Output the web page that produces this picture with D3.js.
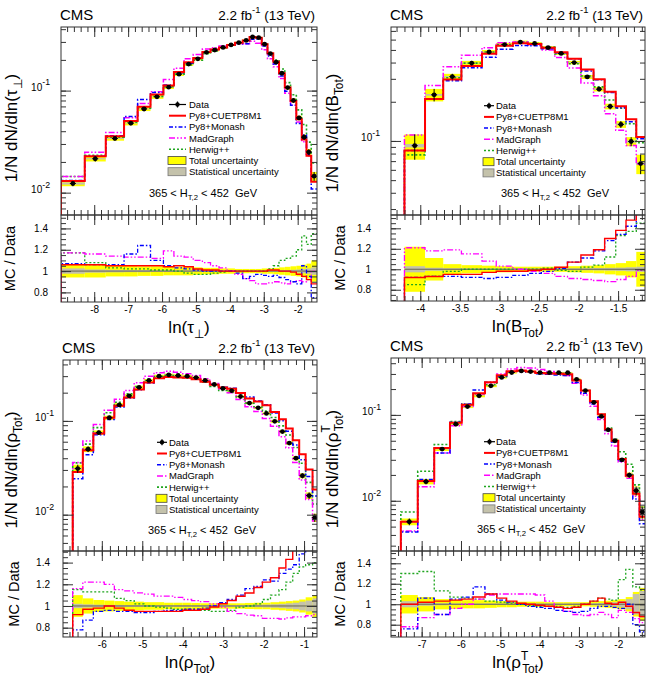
<!DOCTYPE html>
<html lang="en">
<head>
<meta charset="utf-8">
<title>Event shapes 365 < HT,2 < 452 GeV</title>
<script src="https://d3js.org/d3.v7.min.js"></script>
<style>
body { margin: 0; background: #fff; }
svg text { font-family: "Liberation Sans", Arial, Helvetica, sans-serif; fill: #000; }
</style>
</head>
<body>
<script>
// ---- ln(tau_perp) ----
var tauEdges = [-8.98, -8.28, -7.66, -7.12, -6.72, -6.34, -5.96, -5.65, -5.35, -5.08, -4.81, -4.57, -4.32, -4.08, -3.85, -3.62, -3.42, -3.24, -3.06, -2.89, -2.72, -2.55, -2.38, -2.21, -2.04, -1.88, -1.74, -1.60, -1.43];
var tauData = [0.0123, 0.0215, 0.034, 0.048, 0.066, 0.087, 0.108, 0.145, 0.182, 0.205, 0.237, 0.25, 0.265, 0.28, 0.295, 0.31, 0.335, 0.33, 0.285, 0.23, 0.19, 0.148, 0.107, 0.08, 0.054, 0.035, 0.025, 0.0145];
var tauTotal = [0.06, 0.06, 0.05, 0.05, 0.045, 0.045, 0.04, 0.04, 0.04, 0.035, 0.03, 0.03, 0.025, 0.025, 0.02, 0.02, 0.02, 0.02, 0.025, 0.025, 0.03, 0.035, 0.04, 0.045, 0.05, 0.06, 0.07, 0.10];
var tauStat = [0.025, 0.015, 0.012, 0.01, 0.01, 0.008, 0.008, 0.007, 0.007, 0.006, 0.006, 0.006, 0.006, 0.006, 0.006, 0.006, 0.006, 0.006, 0.006, 0.007, 0.008, 0.009, 0.01, 0.012, 0.015, 0.02, 0.025, 0.035];
var tauCuet = [1.06, 1.06, 1.05, 1.05, 1.05, 1.05, 1.04, 1.05, 1.04, 1.02, 1.01, 1.01, 1.0, 1.0, 1.0, 1.0, 1.0, 1.0, 1.0, 1.01, 1.01, 1.0, 1.0, 0.99, 0.97, 0.95, 0.92, 0.88];
var tauMonash = [1.07, 1.06, 1.06, 1.16, 1.24, 1.10, 1.05, 1.03, 1.02, 1.01, 1.0, 1.0, 1.0, 1.0, 0.98, 0.93, 0.95, 0.97, 0.96, 0.95, 0.96, 0.94, 0.92, 0.90, 0.88, 1.05, 0.95, 0.75];
var tauMadgraph = [1.17, 1.16, 1.14, 1.13, 1.13, 1.12, 1.19, 1.14, 1.13, 1.10, 1.08, 1.05, 1.03, 1.0, 0.97, 0.93, 0.91, 0.88, 0.88, 0.89, 0.90, 0.89, 0.88, 0.90, 0.91, 0.90, 0.92, 1.0];
var tauHerwig = [1.17, 1.08, 1.03, 1.02, 1.02, 1.01, 1.01, 1.0, 0.98, 0.97, 0.97, 0.98, 0.99, 1.0, 1.0, 1.0, 1.0, 1.0, 1.0, 1.02, 1.05, 1.10, 1.12, 1.14, 1.20, 1.33, 1.25, 1.35];
var tauTicks = [-8, -7, -6, -5, -4, -3, -2];

// ---- ln(B_Tot) ----
var bEdges = [-4.20, -3.94, -3.71, -3.48, -3.22, -3.04, -2.83, -2.64, -2.47, -2.30, -2.14, -1.97, -1.81, -1.67, -1.53, -1.40, -1.27, -1.16];
var bData = [0.092, 0.226, 0.312, 0.396, 0.482, 0.55, 0.575, 0.56, 0.52, 0.47, 0.40, 0.31, 0.25, 0.184, 0.134, 0.099, 0.067];
var bTotal = [0.22, 0.11, 0.05, 0.04, 0.035, 0.03, 0.025, 0.025, 0.025, 0.025, 0.03, 0.035, 0.04, 0.05, 0.06, 0.08, 0.17];
var bStat = [0.03, 0.015, 0.01, 0.008, 0.007, 0.007, 0.007, 0.007, 0.008, 0.008, 0.009, 0.01, 0.012, 0.014, 0.016, 0.02, 0.025];
var bCuet = [0.92, 0.93, 0.95, 0.95, 0.97, 0.98, 0.98, 0.99, 1.0, 1.02, 1.07, 1.14, 1.19, 1.30, 1.38, 1.48, 1.60];
var bMonash = [0.92, 0.93, 0.93, 0.92, 0.91, 0.92, 0.94, 0.96, 0.98, 1.01, 1.07, 1.11, 1.18, 1.28, 1.34, 1.42, 1.55];
var bMadgraph = [1.21, 1.18, 1.19, 1.15, 1.08, 1.03, 1.0, 0.98, 0.96, 0.93, 0.91, 0.90, 0.89, 0.88, 0.90, 0.93, 0.99];
var bHerwig = [0.85, 0.93, 0.98, 1.0, 1.0, 1.0, 1.0, 1.0, 1.01, 0.99, 0.98, 1.02, 1.04, 1.12, 1.33, 1.37, 1.45];
var bTicks = [-4, -3.5, -3, -2.5, -2, -1.5];

// ---- ln(rho_Tot) ----
var rhoEdges = [-6.72, -6.47, -6.21, -5.94, -5.69, -5.45, -5.20, -4.96, -4.71, -4.46, -4.23, -4.00, -3.78, -3.56, -3.33, -3.11, -2.90, -2.68, -2.46, -2.24, -2.03, -1.83, -1.62, -1.45, -1.28, -1.12, -0.96, -0.79, -0.68];
var rhoData = [0.031, 0.05, 0.075, 0.108, 0.148, 0.185, 0.228, 0.27, 0.30, 0.31, 0.305, 0.30, 0.29, 0.27, 0.245, 0.222, 0.21, 0.182, 0.155, 0.138, 0.12, 0.099, 0.077, 0.058, 0.04, 0.026, 0.016, 0.0093];
var rhoTotal = [0.10, 0.07, 0.055, 0.05, 0.045, 0.04, 0.04, 0.035, 0.035, 0.03, 0.03, 0.03, 0.028, 0.025, 0.025, 0.025, 0.025, 0.025, 0.028, 0.03, 0.03, 0.035, 0.04, 0.045, 0.05, 0.06, 0.08, 0.10];
var rhoStat = [0.02, 0.015, 0.012, 0.01, 0.01, 0.008, 0.008, 0.008, 0.007, 0.007, 0.007, 0.007, 0.007, 0.007, 0.007, 0.008, 0.008, 0.009, 0.01, 0.011, 0.013, 0.016, 0.02, 0.025, 0.03, 0.04, 0.05, 0.07];
var rhoCuet = [0.92, 0.97, 0.98, 1.0, 0.98, 0.96, 0.95, 0.95, 0.95, 0.95, 0.95, 0.96, 0.96, 0.97, 0.99, 1.02, 1.05, 1.09, 1.12, 1.17, 1.22, 1.26, 1.35, 1.43, 1.55, 1.7, 1.9, 2.0];
var rhoMonash = [0.78, 0.87, 0.95, 0.96, 0.95, 0.95, 0.94, 0.94, 0.95, 0.96, 0.96, 0.97, 0.97, 0.98, 1.0, 1.03, 1.06, 1.10, 1.16, 1.18, 1.24, 1.23, 1.30, 1.34, 1.38, 1.48, 1.6, 1.7];
var rhoMadgraph = [1.16, 1.22, 1.22, 1.20, 1.15, 1.14, 1.12, 1.11, 1.09, 1.09, 1.08, 1.06, 1.05, 1.04, 1.02, 0.99, 0.95, 0.93, 0.915, 0.91, 0.885, 0.885, 0.88, 0.89, 0.90, 0.90, 0.91, 0.92];
var rhoHerwig = [1.15, 1.13, 1.13, 1.13, 1.07, 1.05, 1.02, 1.0, 0.99, 0.98, 0.97, 0.97, 0.97, 0.96, 0.95, 0.95, 0.96, 0.99, 1.0, 1.02, 1.06, 1.10, 1.15, 1.22, 1.30, 1.36, 1.38, 1.40];
var rhoTicks = [-6, -5, -4, -3, -2, -1];

// ---- ln(rho^T_Tot) ----
var rhoTEdges = [-7.53, -7.10, -6.68, -6.28, -5.98, -5.69, -5.39, -5.09, -4.84, -4.58, -4.35, -4.11, -3.87, -3.63, -3.40, -3.17, -2.95, -2.72, -2.52, -2.34, -2.17, -2.00, -1.81, -1.63, -1.46, -1.32];
var rhoTData = [0.0057, 0.0167, 0.04, 0.078, 0.125, 0.167, 0.218, 0.273, 0.312, 0.325, 0.32, 0.31, 0.31, 0.31, 0.31, 0.26, 0.192, 0.14, 0.096, 0.067, 0.05, 0.030, 0.0199, 0.0131, 0.0074];
var rhoTTotal = [0.09, 0.07, 0.05, 0.045, 0.04, 0.04, 0.035, 0.03, 0.03, 0.025, 0.025, 0.025, 0.02, 0.02, 0.02, 0.02, 0.02, 0.025, 0.03, 0.035, 0.04, 0.05, 0.07, 0.12, 0.16];
var rhoTStat = [0.03, 0.015, 0.01, 0.008, 0.007, 0.007, 0.007, 0.007, 0.007, 0.007, 0.007, 0.007, 0.007, 0.007, 0.007, 0.008, 0.009, 0.01, 0.012, 0.015, 0.02, 0.03, 0.05, 0.1, 0.13];
var rhoTCuet = [1.0, 1.02, 1.03, 1.04, 1.05, 1.07, 1.10, 1.06, 1.03, 1.01, 1.0, 0.99, 0.98, 0.97, 0.96, 0.97, 1.0, 1.03, 1.06, 1.01, 1.0, 1.02, 0.98, 0.92, 0.88];
var rhoTMonash = [0.76, 1.06, 0.90, 1.05, 1.07, 1.17, 1.10, 1.04, 1.02, 1.0, 0.98, 0.97, 0.96, 0.94, 0.93, 0.92, 0.93, 0.96, 0.98, 0.98, 0.97, 0.96, 1.0, 0.80, 0.73];
var rhoTMadgraph = [0.78, 0.87, 0.90, 0.96, 1.0, 1.05, 1.09, 1.10, 1.10, 1.10, 1.10, 1.09, 1.03, 0.97, 0.93, 0.90, 0.89, 0.90, 0.92, 0.90, 0.87, 0.94, 0.92, 0.86, 0.82];
var rhoTHerwig = [1.30, 1.32, 1.13, 1.07, 1.06, 1.05, 1.03, 1.02, 1.01, 1.0, 0.99, 0.98, 0.98, 0.98, 0.97, 0.98, 1.0, 1.03, 1.06, 1.05, 1.04, 1.24, 1.34, 1.17, 1.14];
var rhoTTicks = [-7, -6, -5, -4, -3, -2];

var ratioTicks = [0.8, 1, 1.2, 1.4];
var logLabelTicks = [0.01, 0.1];
var mcNames = ["Py8+CUETP8M1", "Py8+Monash", "MadGraph", "Herwig++"];
var bandNames = ["Total uncertainty", "Statistical uncertainty"];

var mcStyle = [
    {color: "#ff0000", dash: null, w: 2, rw: 1.4},
    {color: "#0000ff", dash: "4,2,1.5,2", w: 1.5, rw: 1.3},
    {color: "#ff00ff", dash: "6,2,1.5,2,1.5,2", w: 1.5, rw: 1.3},
    {color: "#1fa51f", dash: "2,2", w: 1.6, rw: 1.3}
];
var yellow = "#ffff00", statGray = "#c4c2ab";

var svg = d3.select("body").append("svg")
    .attr("width", 652).attr("height", 685);
svg.append("rect").attr("width", 652).attr("height", 685).attr("fill", "#fff");
var defs = svg.append("defs");

// text with sub/superscripts: parts = [[text, "sub"|"sup"|undefined, dx]]
function rich(t, parts, size) {
    var shift = 0;
    parts.forEach(function (p) {
        var s = p[1] === "sub" ? 0.3 * size : (p[1] === "sup" ? -0.45 * size : 0);
        var ts = t.append("tspan").text(p[0]).attr("dy", s - shift);
        if (p[1]) ts.attr("font-size", 0.7 * size);
        if (p[2]) ts.attr("dx", p[2]);
        shift = s;
    });
}

function stepPoints(edges, vals, x, y, base) {
    var pts = [[x(edges[0]), base]];
    vals.forEach(function (v, i) {
        pts.push([x(edges[i]), y(v)]);
        pts.push([x(edges[i + 1]), y(v)]);
    });
    return pts;
}

function minorRange(d0, d1, step) {
    var out = [];
    for (var k = Math.ceil(d0 / step - 1e-6); k * step <= d1 + 1e-9; k++) out.push(+(k * step).toFixed(4));
    return out;
}

var line = d3.line();

function drawPanel(p) {
    var x = d3.scaleLinear().domain(p.xDomain).range([p.left, p.right]);
    var y = d3.scaleLog().domain(p.yDomain).range([p.mid, p.top]);
    var r = d3.scaleLinear().domain(p.rDomain).range([p.bottom, p.mid]);
    var bins = d3.range(p.data.length);
    var w = p.right - p.left;

    defs.append("clipPath").attr("id", "cu" + p.id).append("rect")
        .attr("x", p.left).attr("y", p.top).attr("width", w).attr("height", p.mid - p.top);
    defs.append("clipPath").attr("id", "cr" + p.id).append("rect")
        .attr("x", p.left).attr("y", p.mid).attr("width", w).attr("height", p.bottom - p.mid);

    // ---------- upper panel ----------
    var up = svg.append("g").attr("clip-path", "url(#cu" + p.id + ")");
    [[p.total, yellow], [p.stat, statGray]].forEach(function (b) {
        up.selectAll(null).data(bins).enter().append("rect")
            .attr("x", function (i) { return x(p.edges[i]); })
            .attr("width", function (i) { return x(p.edges[i + 1]) - x(p.edges[i]); })
            .attr("y", function (i) { return y(p.data[i] * (1 + b[0][i])); })
            .attr("height", function (i) { return y(p.data[i] * (1 - b[0][i])) - y(p.data[i] * (1 + b[0][i])); })
            .attr("fill", b[1]);
    });
    for (var k = p.mc.length - 1; k >= 0; k--) {
        var ratio = p.mc[k];
        var vals = p.data.map(function (d, i) { return d * ratio[i]; });
        up.append("path")
            .attr("d", line(stepPoints(p.edges, vals, x, y, p.mid + 5)))
            .attr("fill", "none")
            .attr("stroke", mcStyle[k].color)
            .attr("stroke-width", mcStyle[k].w)
            .attr("stroke-dasharray", mcStyle[k].dash);
    }
    var pts = up.selectAll(null).data(bins).enter().append("g");
    pts.append("line")
        .attr("x1", function (i) { return (x(p.edges[i]) + x(p.edges[i + 1])) / 2; })
        .attr("x2", function (i) { return (x(p.edges[i]) + x(p.edges[i + 1])) / 2; })
        .attr("y1", function (i) { return y(p.data[i] * (1 + p.total[i])); })
        .attr("y2", function (i) { return y(p.data[i] * (1 - p.total[i])); })
        .attr("stroke", "#000").attr("stroke-width", 1);
    pts.append("line")
        .attr("x1", function (i) { return (x(p.edges[i]) + x(p.edges[i + 1])) / 2 - 3; })
        .attr("x2", function (i) { return (x(p.edges[i]) + x(p.edges[i + 1])) / 2 + 3; })
        .attr("y1", function (i) { return y(p.data[i]); })
        .attr("y2", function (i) { return y(p.data[i]); })
        .attr("stroke", "#000").attr("stroke-width", 1);
    pts.append("circle")
        .attr("cx", function (i) { return (x(p.edges[i]) + x(p.edges[i + 1])) / 2; })
        .attr("cy", function (i) { return y(p.data[i]); })
        .attr("r", 2.4).attr("fill", "#000");

    // ---------- ratio panel ----------
    var rp = svg.append("g").attr("clip-path", "url(#cr" + p.id + ")");
    [[p.total, yellow], [p.stat, statGray]].forEach(function (b) {
        rp.selectAll(null).data(bins).enter().append("rect")
            .attr("x", function (i) { return x(p.edges[i]); })
            .attr("width", function (i) { return x(p.edges[i + 1]) - x(p.edges[i]); })
            .attr("y", function (i) { return r(1 + b[0][i]); })
            .attr("height", function (i) { return r(1 - b[0][i]) - r(1 + b[0][i]); })
            .attr("fill", b[1]);
    });
    rp.append("line")
        .attr("x1", x(p.edges[0])).attr("x2", x(p.edges[p.edges.length - 1]))
        .attr("y1", r(1)).attr("y2", r(1))
        .attr("stroke", "#66664f").attr("stroke-width", 1);
    for (var m = p.mc.length - 1; m >= 0; m--) {
        rp.append("path")
            .attr("d", line(stepPoints(p.edges, p.mc[m], x, r, p.bottom + 5)))
            .attr("fill", "none")
            .attr("stroke", mcStyle[m].color)
            .attr("stroke-width", mcStyle[m].rw)
            .attr("stroke-dasharray", mcStyle[m].dash);
    }

    // ---------- frames and axes ----------
    var ax = svg.append("g").attr("color", "#333");
    function tickAxis(axis, tr) {
        var g = ax.append("g").attr("transform", tr)
            .attr("font-size", 12.5)
            .attr("font-family", '"Liberation Sans", Arial, sans-serif')
            .call(axis);
        g.select(".domain").remove();
        return g;
    }
    var xMinor = minorRange(p.xDomain[0], p.xDomain[1], p.minor);
    var logMinor = [];
    for (var e = -4; e <= 0; e++) {
        for (var j = 1; j <= 9; j++) {
            var v = j * Math.pow(10, e);
            if (v > p.yDomain[0] && v < p.yDomain[1]) logMinor.push(v);
        }
    }
    var rMinor = minorRange(p.rDomain[0], p.rDomain[1], 0.05);

    // upper panel: x ticks top & bottom
    tickAxis(d3.axisTop(x).tickValues(xMinor).tickSize(-5).tickFormat(""), "translate(0," + p.top + ")");
    tickAxis(d3.axisTop(x).tickValues(p.xTicks).tickSize(-10).tickFormat(""), "translate(0," + p.top + ")");
    tickAxis(d3.axisBottom(x).tickValues(xMinor).tickSize(-5).tickFormat(""), "translate(0," + p.mid + ")");
    tickAxis(d3.axisBottom(x).tickValues(p.xTicks).tickSize(-10).tickFormat(""), "translate(0," + p.mid + ")");
    // ratio panel: x ticks top & bottom
    tickAxis(d3.axisTop(x).tickValues(xMinor).tickSize(-5).tickFormat(""), "translate(0," + p.mid + ")");
    tickAxis(d3.axisTop(x).tickValues(p.xTicks).tickSize(-10).tickFormat(""), "translate(0," + p.mid + ")");
    tickAxis(d3.axisBottom(x).tickValues(xMinor).tickSize(-5).tickFormat(""), "translate(0," + p.bottom + ")");
    tickAxis(d3.axisBottom(x).tickValues(p.xTicks).tickSize(-10).tickPadding(4)
        .tickFormat(function (d) { return String(d); }), "translate(0," + p.bottom + ")");

    // upper y (log)
    tickAxis(d3.axisLeft(y).tickValues(logMinor).tickSize(-5).tickFormat(""), "translate(" + p.left + ",0)");
    tickAxis(d3.axisRight(y).tickValues(logMinor).tickSize(-5).tickFormat(""), "translate(" + p.right + ",0)");
    var lt = logLabelTicks.filter(function (v) { return v > p.yDomain[0] && v < p.yDomain[1]; });
    tickAxis(d3.axisRight(y).tickValues(lt).tickSize(-10).tickFormat(""), "translate(" + p.right + ",0)");
    var yl = tickAxis(d3.axisLeft(y).tickValues(lt).tickSize(-10).tickPadding(p.yLabOff), "translate(" + p.left + ",0)");
    yl.selectAll(".tick text").each(function (d) {
        var t = d3.select(this).text(null);
        rich(t, [["10"], [String(Math.round(Math.log10(d))), "sup"]], 12.5);
    });

    // ratio y
    tickAxis(d3.axisLeft(r).tickValues(rMinor).tickSize(-5).tickFormat(""), "translate(" + p.left + ",0)");
    tickAxis(d3.axisRight(r).tickValues(rMinor).tickSize(-5).tickFormat(""), "translate(" + p.right + ",0)");
    tickAxis(d3.axisRight(r).tickValues(ratioTicks).tickSize(-10).tickFormat(""), "translate(" + p.right + ",0)");
    tickAxis(d3.axisLeft(r).tickValues(ratioTicks).tickSize(-10).tickPadding(p.rLabOff)
        .tickFormat(function (d) { return d === 1 ? "1" : d3.format(".1f")(d); }), "translate(" + p.left + ",0)");

    ax.append("rect").attr("x", p.left).attr("y", p.top).attr("width", w).attr("height", p.mid - p.top)
        .attr("fill", "none").attr("stroke", "#333").attr("stroke-width", 1);
    ax.append("rect").attr("x", p.left).attr("y", p.mid).attr("width", w).attr("height", p.bottom - p.mid)
        .attr("fill", "none").attr("stroke", "#333").attr("stroke-width", 1);

    // ---------- titles ----------
    svg.append("text").attr("x", p.left - 1).attr("y", p.top - 7.5)
        .attr("font-size", 15).text("CMS");
    var lumi = svg.append("text").attr("x", p.right - 2).attr("y", p.top - 7.5)
        .attr("text-anchor", "end").attr("font-size", 13.5);
    rich(lumi, [["2.2 fb"], ["-1", "sup"], [" (13 TeV)"]], 13.5);

    var xt = svg.append("text").attr("x", (p.left + p.right) / 2).attr("y", p.bottom + 31)
        .attr("text-anchor", "middle").attr("font-size", 17);
    rich(xt, p.xTitle, 17);

    var yt = svg.append("text")
        .attr("transform", "translate(" + p.yTitleX + "," + p.yTitleY + ") rotate(-90)")
        .attr("text-anchor", "middle").attr("font-size", 17);
    rich(yt, p.yTitle, 17);

    svg.append("text")
        .attr("transform", "translate(" + p.rTitleX + "," + ((p.mid + p.bottom) / 2) + ") rotate(-90)")
        .attr("text-anchor", "middle").attr("font-size", 14.5).text("MC / Data");

    var kin = svg.append("text").attr("x", p.kinX).attr("y", p.kinY)
        .attr("text-anchor", "middle").attr("font-size", 11);
    rich(kin, [["365 < H"], ["T,2", "sub"], [" < 452\u00a0\u00a0GeV"]], 11);

    // ---------- legend ----------
    var L = p.legend, step = 11.2;
    var lg = svg.append("g");
    var labels = ["Data"].concat(mcNames, bandNames);
    labels.forEach(function (lab, i) {
        var cy = L.y0 + i * step;
        lg.append("text").attr("x", L.tx).attr("y", cy + 3.4).attr("font-size", 9.5).text(lab);
    });
    var mx = (L.s0 + L.s1) / 2;
    lg.append("line").attr("x1", L.s0).attr("x2", L.s1).attr("y1", L.y0).attr("y2", L.y0)
        .attr("stroke", "#000").attr("stroke-width", 1.2);
    lg.append("line").attr("x1", mx).attr("x2", mx).attr("y1", L.y0 - 3).attr("y2", L.y0 + 3)
        .attr("stroke", "#000").attr("stroke-width", 1.2);
    lg.append("circle").attr("cx", mx).attr("cy", L.y0).attr("r", 2.2).attr("fill", "#000");
    mcStyle.forEach(function (s, i) {
        var cy = L.y0 + (i + 1) * step;
        lg.append("line").attr("x1", L.s0).attr("x2", L.s1).attr("y1", cy).attr("y2", cy)
            .attr("stroke", s.color).attr("stroke-width", s.w).attr("stroke-dasharray", s.dash);
    });
    [[yellow, "#444"], [statGray, "#777"]].forEach(function (c, i) {
        var cy = L.y0 + (i + 5) * step;
        lg.append("rect").attr("x", L.s0 - 1).attr("y", cy - 4).attr("width", L.s1 - L.s0 + 1).attr("height", 8)
            .attr("fill", c[0]).attr("stroke", c[1]).attr("stroke-width", 0.8);
    });
}

var panels = [
    {id: "tau", edges: tauEdges, data: tauData, total: tauTotal, stat: tauStat,
     mc: [tauCuet, tauMonash, tauMadgraph, tauHerwig], xTicks: tauTicks, minor: 0.2,
     left: 61, right: 317, top: 27, mid: 215, bottom: 302,
     xDomain: [-8.98, -1.43], yDomain: [0.00604, 0.42], rDomain: [0.71, 1.526],
     xTitle: [["ln(\u03c4"], ["\u22a5", "sub"], [")"]],
     yTitle: [["1/N dN/dln(\u03c4"], ["\u22a5", "sub"], [")"]],
     yTitleX: 16.5, yTitleY: 128, rTitleX: 15, yLabOff: 11, rLabOff: 13,
     kinX: 203, kinY: 197, legend: {s0: 169, s1: 186, tx: 189, y0: 104.5}},
    {id: "btot", edges: bEdges, data: bData, total: bTotal, stat: bStat,
     mc: [bCuet, bMonash, bMadgraph, bHerwig], xTicks: bTicks, minor: 0.1,
     left: 391, right: 645, top: 27, mid: 215, bottom: 301,
     xDomain: [-4.37, -1.16], yDomain: [0.027, 0.75], rDomain: [0.69, 1.53],
     xTitle: [["ln(B"], ["Tot", "sub"], [")"]],
     yTitle: [["1/N dN/dln(B"], ["Tot", "sub"], [")"]],
     yTitleX: 338, yTitleY: 133, rTitleX: 345, yLabOff: 11, rLabOff: 20,
     kinX: 555, kinY: 197, legend: {s0: 484, s1: 494, tx: 496, y0: 105.7}},
    {id: "rho", edges: rhoEdges, data: rhoData, total: rhoTotal, stat: rhoStat,
     mc: [rhoCuet, rhoMonash, rhoMadgraph, rhoHerwig], xTicks: rhoTicks, minor: 0.2,
     left: 63, right: 317, top: 360, mid: 551, bottom: 637,
     xDomain: [-6.96, -0.68], yDomain: [0.0041, 0.446], rDomain: [0.714, 1.507],
     xTitle: [["ln(\u03c1"], ["Tot", "sub"], [")"]],
     yTitle: [["1/N dN/dln(\u03c1"], ["Tot", "sub"], [")"]],
     yTitleX: 16.5, yTitleY: 470, rTitleX: 19, yLabOff: 9, rLabOff: 13,
     kinX: 202, kinY: 534, legend: {s0: 157, s1: 167, tx: 169, y0: 442.3}},
    {id: "rhot", edges: rhoTEdges, data: rhoTData, total: rhoTTotal, stat: rhoTStat,
     mc: [rhoTCuet, rhoTMonash, rhoTMadgraph, rhoTHerwig], xTicks: rhoTTicks, minor: 0.2,
     left: 391, right: 645, top: 358, mid: 551, bottom: 637,
     xDomain: [-7.78, -1.32], yDomain: [0.0026, 0.46], rDomain: [0.68, 1.52],
     xTitle: [["ln(\u03c1"], ["T", "sup"], ["Tot", "sub", -6], [")"]],
     yTitle: [["1/N dN/dln(\u03c1"], ["T", "sup"], ["Tot", "sub", -6], [")"]],
     yTitleX: 338, yTitleY: 469, rTitleX: 345, yLabOff: 10, rLabOff: 20,
     kinX: 531, kinY: 533, legend: {s0: 484, s1: 495, tx: 496, y0: 441.7}}
];

panels.forEach(drawPanel);
</script>
</body>
</html>
